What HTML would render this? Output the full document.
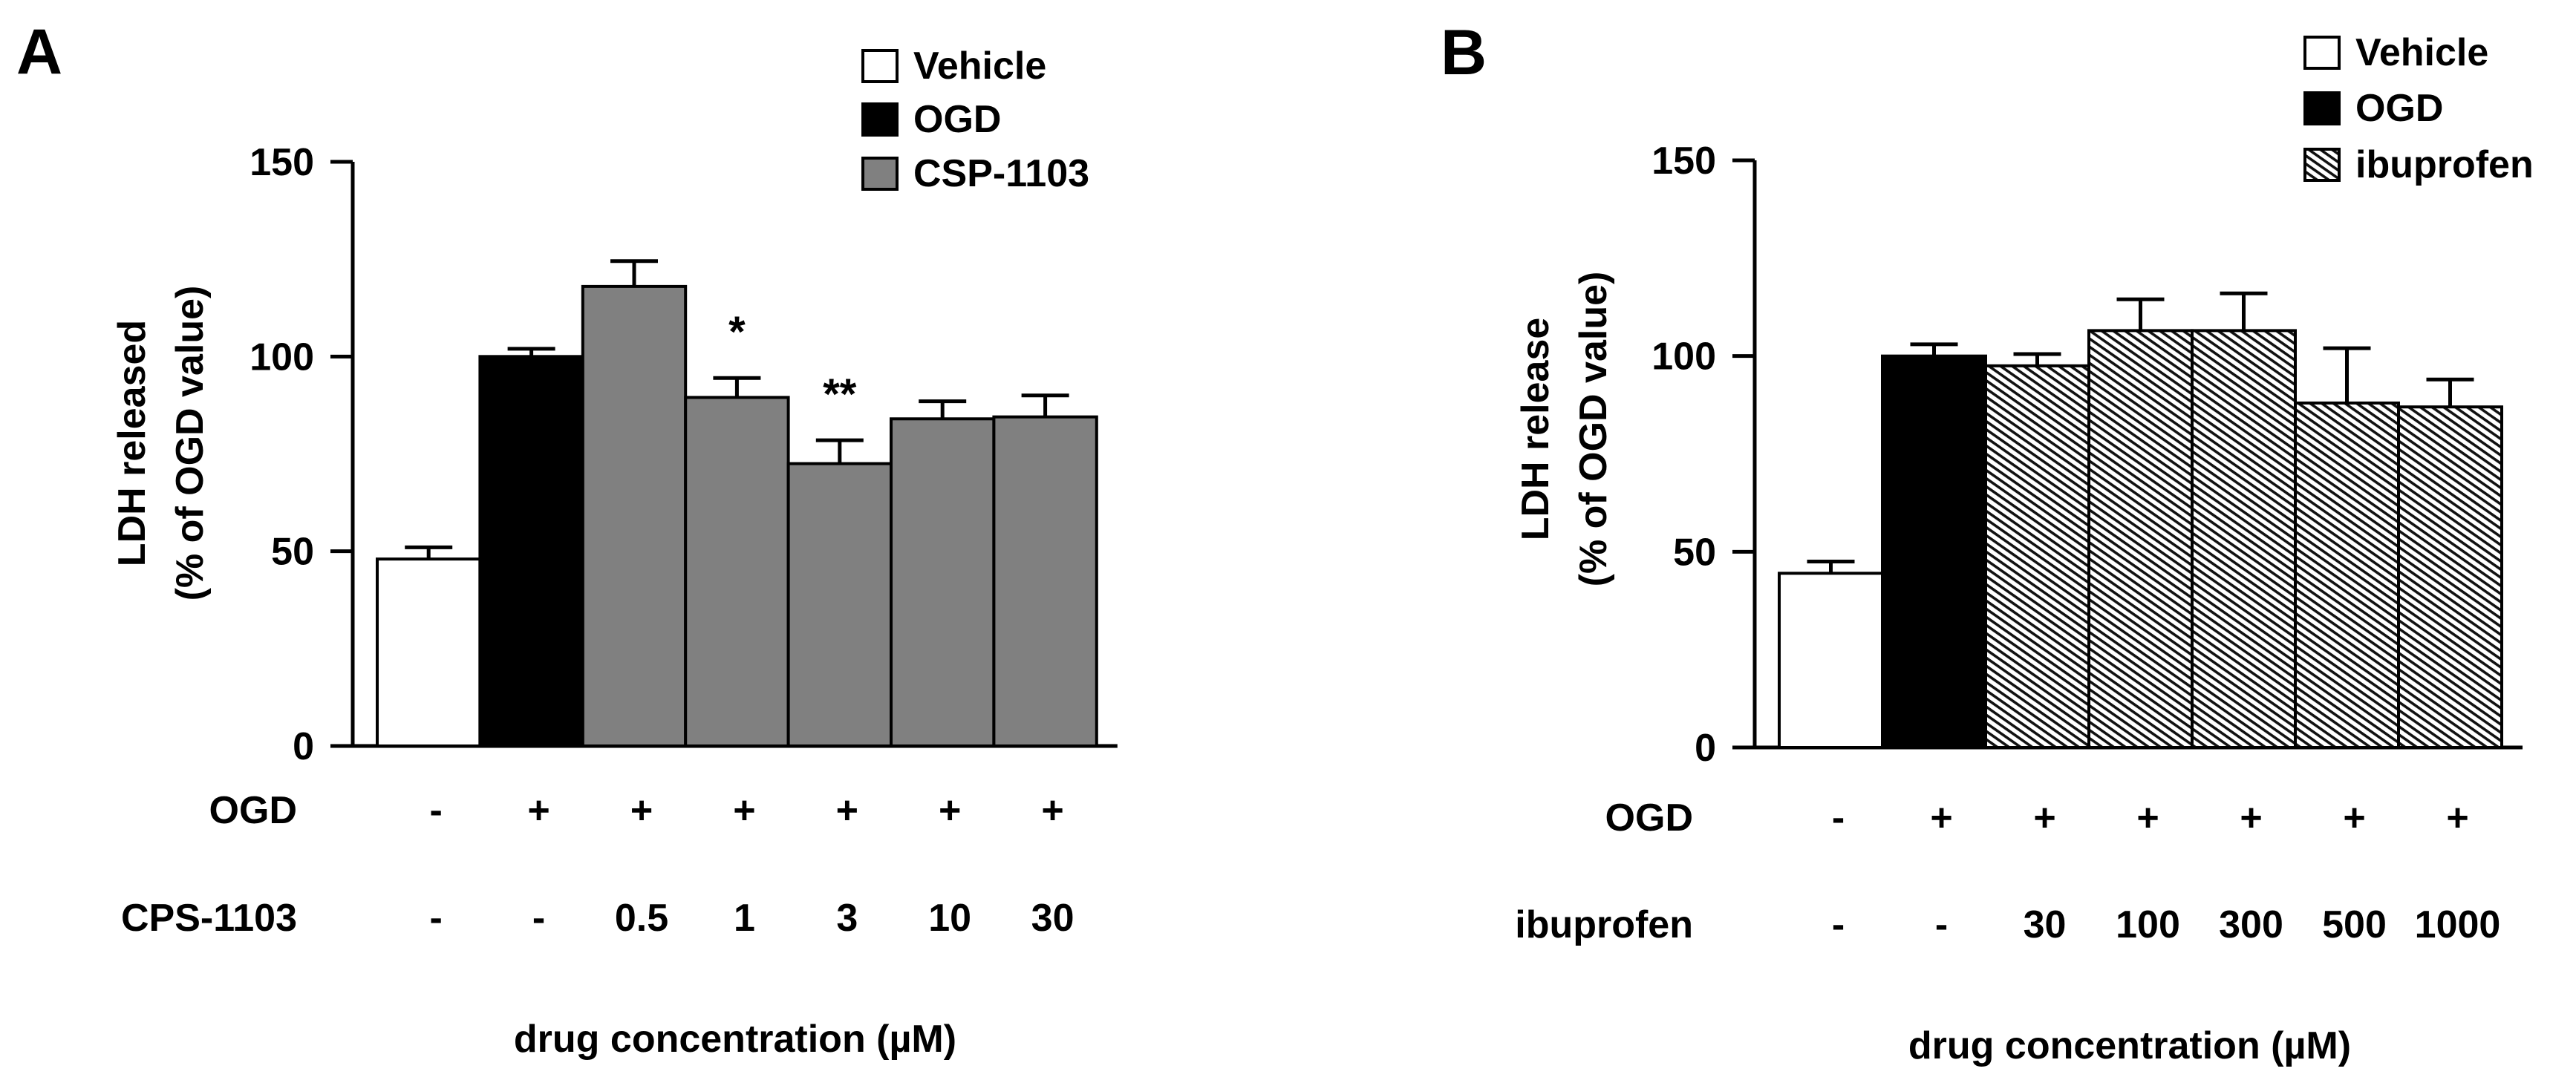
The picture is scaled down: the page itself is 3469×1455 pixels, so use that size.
<!DOCTYPE html>
<html><head><meta charset="utf-8"><style>
html,body{margin:0;padding:0;background:#fff}
svg{display:block}
text{font-family:"Liberation Sans",Arial,sans-serif;font-weight:bold;fill:#000}
</style></head><body>
<svg id="chart" width="3469" height="1455" viewBox="0 0 3469 1455" xmlns="http://www.w3.org/2000/svg">
<defs>
<pattern id="hatch" patternUnits="userSpaceOnUse" width="9" height="9" patternTransform="rotate(35)">
<rect width="9" height="9" fill="#fff"/>
<rect y="0" width="9" height="3.6" fill="#111"/>
</pattern>
</defs>
<g id="panelA"></g>
<g id="panelB"></g>
</svg>
<script>
const catsA = ["vehicle","ogd","0.5","1","3","10","30"];
const valsA = [48, 100, 118, 89.5, 72.5, 84, 84.5];
const errsA = [3, 2, 6.5, 5, 6, 4.5, 5.5];
const ogdA = ["-","+","+","+","+","+","+"];
const doseA = ["-","-","0.5","1","3","10","30"];
const starsA = ["","","","*","**","",""];
const catsB = ["vehicle","ogd","30","100","300","500","1000"];
const valsB = [44.5, 100, 97.5, 106.5, 106.5, 88, 87];
const errsB = [3, 3, 3, 8, 9.5, 14, 7];
const ogdB = ["-","+","+","+","+","+","+"];
const doseB = ["-","-","30","100","300","500","1000"];
const ticks = [0, 50, 100, 150];

const NS = "http://www.w3.org/2000/svg";
function mk(parent, tag, attrs, txt){
  const e = document.createElementNS(NS, tag);
  for (const k in attrs) e.setAttribute(k, attrs[k]);
  if (txt !== undefined) e.textContent = txt;
  parent.appendChild(e);
  return e;
}

function drawPanel(g, cfg){
  const yS = v => cfg.y0 - (v/150)*(cfg.y0 - cfg.y150);
  const xS = i => cfg.barX0 + i*cfg.bw;
  let t = mk(g,"text",{x:cfg.letterX,y:cfg.letterY,"font-size":86},cfg.letter);
  
  
  let ax = mk(g,"line",{x1:cfg.ax,y1:cfg.y150,x2:cfg.ax,y2:cfg.y0,stroke:"#000","stroke-width":5});
  
  
  let xa = mk(g,"line",{x1:cfg.ax-30,y1:cfg.y0,x2:xS(cfg.vals.length)+28,y2:cfg.y0,stroke:"#000","stroke-width":5});
  
  
  ticks.forEach(v=>{
    const y = yS(v);
    let tk = mk(g,"line",{x1:cfg.ax-30,y1:y,x2:cfg.ax,y2:y,stroke:"#000","stroke-width":5});
    
    
    let tl = mk(g,"text",{x:cfg.ax-52,y:y+18,"font-size":52,"text-anchor":"end"},String(v));
    
    
  });
  let yt = mk(g,"text",{transform:`translate(${cfg.ytX},${cfg.ytY}) rotate(-90)`,"font-size":52,"text-anchor":"middle"});
  
  
  mk(yt,"tspan",{x:0,y:0},cfg.yTitle1);
  mk(yt,"tspan",{x:0,y:78},"(% of OGD value)");
  cfg.vals.forEach((v,i)=>{
    const x = xS(i), y = yS(v), fill = i===0?"#fff":(i===1?"#000":cfg.fill);
    const cx = x + cfg.bw/2;
    const ey = yS(v + cfg.errs[i]);
    let el = mk(g,"line",{x1:cx,y1:y,x2:cx,y2:ey,stroke:"#000","stroke-width":5});
    
    
    let ec = mk(g,"line",{x1:cx-32,y1:ey,x2:cx+32,y2:ey,stroke:"#000","stroke-width":5});
    
    
    let b = mk(g,"rect",{x:x,y:y,width:cfg.bw,height:cfg.y0-y,fill:fill,stroke:"#000","stroke-width":4});
    
    
    if (cfg.stars && cfg.stars[i]){
      let s = mk(g,"text",{x:cx,y:ey-42,"font-size":58,"text-anchor":"middle"},cfg.stars[i]);
      
      
    }
    let o = mk(g,"text",{x:cx+10,y:cfg.row1Y+18,"font-size":52,"text-anchor":"middle"},cfg.ogd[i]);
    
    
    let d = mk(g,"text",{x:cx+10,y:cfg.row2Y+18,"font-size":52,"text-anchor":"middle"},cfg.dose[i]);
    
    
  });
  let r1 = mk(g,"text",{x:cfg.rowLblX,y:cfg.row1Y+18,"font-size":52,"text-anchor":"end"},"OGD");
  
  
  let r2 = mk(g,"text",{x:cfg.rowLblX,y:cfg.row2Y+18,"font-size":52,"text-anchor":"end"},cfg.row2Lbl);
  
  
  let xt = mk(g,"text",{x:cfg.xtX,y:cfg.xtY+18,"font-size":52,"text-anchor":"middle"},"drug concentration (µM)");
  
  
  const lg = [["Vehicle","#fff"],["OGD","#000"],[cfg.legend3,cfg.fill]];
  lg.forEach((l,i)=>{
    const cy = cfg.legY[i];
    let lb = mk(g,"rect",{x:cfg.legX,y:cy-20,width:46,height:42,fill:l[1],stroke:"#000","stroke-width":4});
    
    
    let lt = mk(g,"text",{x:cfg.legX+68,y:cy+18,"font-size":52},l[0]);
    
    
  });
}

drawPanel(document.getElementById('panelA'),{
  letter:"A",letterX:22,letterY:99,ax:475,y0:1005,y150:218,barX0:508,bw:138.4,
  vals:valsA,errs:errsA,cats:catsA,ogd:ogdA,dose:doseA,stars:starsA,fill:"#808080",
  ytX:195,ytY:597,yTitle1:"LDH released",row1Y:1091,row2Y:1236,rowLblX:400,row2Lbl:"CPS-1103",
  xtX:990,xtY:1399,legX:1162,legY:[88,160,233],legend3:"CSP-1103"
});
drawPanel(document.getElementById('panelB'),{
  letter:"B",letterX:1940,letterY:100,ax:2363,y0:1007,y150:216,barX0:2396,bw:139,
  vals:valsB,errs:errsB,cats:catsB,ogd:ogdB,dose:doseB,stars:null,fill:"url(#hatch)",
  ytX:2085,ytY:578,yTitle1:"LDH release",row1Y:1101,row2Y:1245,rowLblX:2280,row2Lbl:"ibuprofen",
  xtX:2868,xtY:1408,legX:3104,legY:[70,145,221],legend3:"ibuprofen"
});
</script>
</body></html>
